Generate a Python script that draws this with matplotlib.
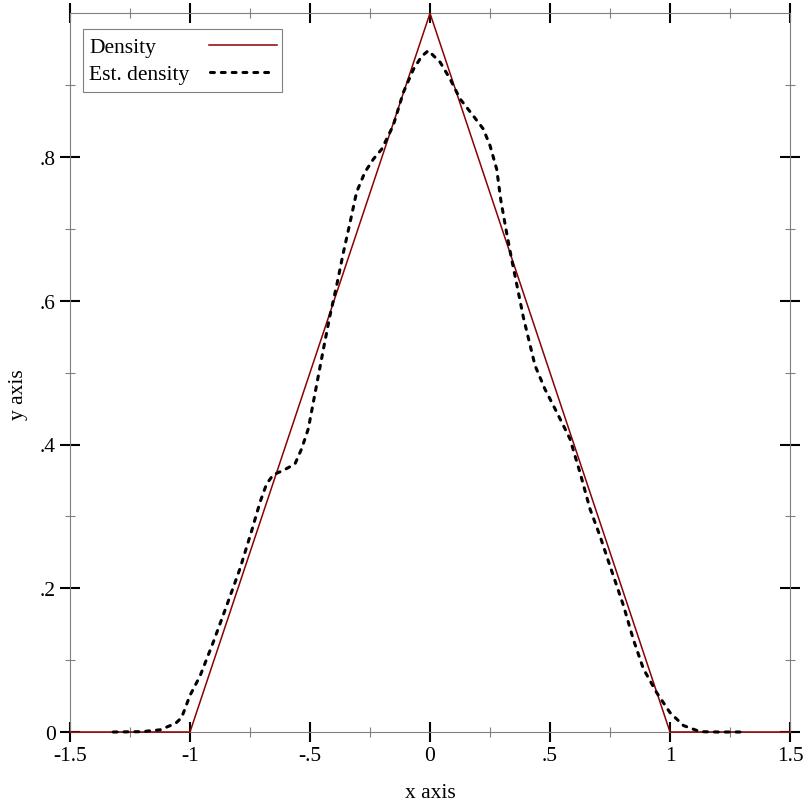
import matplotlib
matplotlib.use('Agg')
from matplotlib import pyplot as plt
from matplotlib.patches import Rectangle

# true density (triangle)
dens_x = [-1.5, -1.0, 0.0, 1.0, 1.5]
dens_y = [0.0, 0.0, 1.0, 0.0, 0.0]

# estimated density
est_x = [-1.32, -1.2, -1.125, -1.06, -1.035, -1.0, -0.958, -0.903, -0.847, -0.792,
         -0.743, -0.708, -0.681, -0.653, -0.611, -0.5625, -0.535, -0.507, -0.486, -0.465,
         -0.444, -0.417, -0.389, -0.361, -0.333, -0.306, -0.271, -0.236, -0.201, -0.153,
         -0.111, -0.069, -0.035, -0.007, 0.042, 0.083, 0.125, 0.181, 0.222, 0.25,
         0.278, 0.295, 0.319, 0.340, 0.368, 0.389, 0.4375, 0.479, 0.528, 0.583,
         0.625, 0.667, 0.708, 0.75, 0.806, 0.847, 0.889, 0.944, 1.0, 1.056,
         1.125, 1.2, 1.31]
est_y = [0.0, 0.0005, 0.003, 0.012, 0.020, 0.051, 0.078, 0.125, 0.176, 0.227,
         0.28, 0.32, 0.345, 0.358, 0.364, 0.373, 0.394, 0.422, 0.459, 0.496,
         0.533, 0.579, 0.621, 0.667, 0.709, 0.751, 0.779, 0.797, 0.811, 0.844,
         0.890, 0.922, 0.940, 0.948, 0.932, 0.909, 0.881, 0.857, 0.839, 0.816,
         0.783, 0.74, 0.695, 0.658, 0.612, 0.577, 0.510, 0.477, 0.445, 0.408,
         0.361, 0.310, 0.273, 0.231, 0.176, 0.129, 0.088, 0.055, 0.027, 0.009,
         0.0005, 0.0, 0.0]

x_ticks = [-1.5, -1.0, -0.5, 0.0, 0.5, 1.0, 1.5]
x_labels = ['-1.5', '-1', '-.5', '0', '.5', '1', '1.5']
x_minor = [-1.25, -0.75, -0.25, 0.25, 0.75, 1.25]
y_ticks = [0.0, 0.2, 0.4, 0.6, 0.8]
y_labels = ['0', '.2', '.4', '.6', '.8']
y_minor = [0.1, 0.3, 0.5, 0.7, 0.9]

plt.rcParams['font.family'] = ['Liberation Serif', 'DejaVu Serif']
plt.rcParams['font.size'] = 15.5
plt.rcParams['lines.scale_dashes'] = False

RED = '#8b0000'
GRAY = '#808080'
DASH = (0, (2.8, 5.0))

fig = plt.figure(figsize=(8.12, 8.12), dpi=100)
ax = fig.add_axes([70 / 812, 1 - 733 / 812, 720 / 812, 718.75 / 812])

ax.plot(dens_x, dens_y, color=RED, lw=1.1, clip_on=False, zorder=3)
ax.plot(est_x, est_y, color='black', lw=2.2, linestyle=DASH,
        dash_capstyle='round', clip_on=False, zorder=4)

ax.set_xlim(-1.5, 1.5)
ax.set_ylim(0, 1.0)
ax.set_xticks(x_ticks)
ax.set_xticklabels(x_labels)
ax.set_xticks(x_minor, minor=True)
ax.set_yticks(y_ticks)
ax.set_yticklabels(y_labels)
ax.set_yticks(y_minor, minor=True)

for s in ax.spines.values():
    s.set_color(GRAY)
    s.set_linewidth(0.8)
ax.tick_params(which='both', direction='inout', top=True, right=True)
ax.tick_params(which='major', length=14.4, width=1.5, color='black', pad=3.0,
               labelsize=15.5)
ax.tick_params(which='minor', length=6.5, width=0.8, color=GRAY)

fig.text(430 / 812, 1 - 798 / 812, 'x axis', ha='center', va='baseline')
fig.text(23.5 / 812, 1 - 395 / 812, 'y axis', ha='center', va='baseline',
         rotation=90, rotation_mode='anchor')

# legend box, text on the left, sample line on the right
ax.add_patch(Rectangle((0.0181, 0.8904), 0.2763, 0.0877, transform=ax.transAxes,
                       facecolor='white', edgecolor=GRAY, lw=0.8, zorder=5))
ax.text(0.0264, 0.9457, 'Density', transform=ax.transAxes, va='baseline', zorder=6)
ax.text(0.0264, 0.9085, 'Est. density', transform=ax.transAxes, va='baseline', zorder=6)
ax.plot([0.1935, 0.2871], [0.9558, 0.9558], transform=ax.transAxes,
        color=RED, lw=1.1, zorder=6)
ax.plot([0.1950, 0.2850], [0.9187, 0.9187], transform=ax.transAxes,
        color='black', lw=2.2, linestyle=DASH, dash_capstyle='round', zorder=6)

plt.savefig('out.png', dpi=100)
